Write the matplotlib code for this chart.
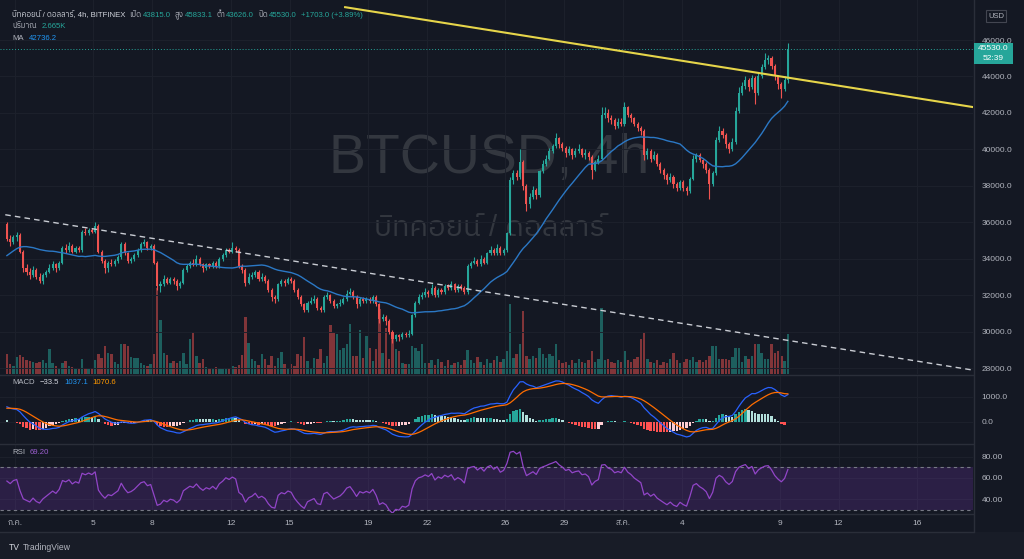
import numpy as np
import pandas as pd
import matplotlib
matplotlib.use("Agg")
import matplotlib.pyplot as plt
from matplotlib import font_manager as fm
from matplotlib.ft2font import FT2Font
from matplotlib.patches import Rectangle
from matplotlib.lines import Line2D

# ---------------------------------------------------------------- data
start_time = "2021-06-30 12:00"      # first visible 4h bar
bar_hours = 4

# closes before the visible window (only feed the indicators)
warmup_close = [
    33700, 34100, 34400, 34600, 34300, 34700,
    34500, 33600, 32900, 32400, 31900, 31600,
    31300, 31700, 32000, 31600, 32000, 32300,
    32300, 32800, 33300, 33800, 34100, 34300,
    34100, 33900, 34200, 34000, 33800, 34100,
    34700, 35200, 35500, 35800, 35400, 35600,
    35400, 35300, 35900,
]

close = [
    35100, 34900, 35200,                                  # Jun 30
    35300, 34400, 33500, 33300, 33100, 33400,             # Jul 1
    33000, 32800, 33100, 33300, 33500, 33700,
    33500, 33800, 34600, 34500, 34700, 34400,
    34600, 34500, 35500, 35400, 35600, 35500,
    35800, 34400, 33900, 33500, 33800, 33700,             # Jul 5
    33900, 34100, 34800, 34300, 33900, 34000,
    34200, 34500, 34800, 34900, 34600, 34700,
    33800, 32500, 32600, 32900, 32700, 32900,
    32800, 32500, 32700, 33400, 33600, 33800,
    33700, 34000, 33700, 33500, 33700, 33600,             # Jul 10
    33800, 33600, 34000, 34200, 34500, 34400,
    34600, 34500, 33600, 33400, 32700, 33000,
    33100, 33300, 32900, 33000, 32800, 32300,
    31900, 31800, 32600, 32800, 32700, 32900,
    32800, 32300, 31900, 31500, 31200, 31600,             # Jul 15
    31700, 31800, 31300, 31200, 31900, 32000,
    31700, 31400, 31500, 31600, 31800, 32100,
    32200, 31900, 31500, 31800, 31700, 31800,
    31700, 31900, 31500, 30700, 30800, 30600,
    30000, 29600, 29800, 29700, 29900, 29800,             # Jul 20
    29900, 30900, 31600, 31900, 32000, 32200,
    32100, 32400, 32000, 32300, 32200, 32500,
    32400, 32600, 32300, 32500, 32400, 32200,
    33600, 33800, 33900, 33700, 34000, 33800,
    34300, 34500, 34300, 34600, 34300, 34500,             # Jul 25
    35400, 38300, 38700, 38500, 39300, 38000,
    37000, 37400, 37800, 37500, 38800, 39200,
    39500, 39900, 40200, 40600, 40300, 40100,
    39800, 40000, 39700, 39900, 40000, 39700,
    39800, 39600, 38900, 39300, 39500, 41900,             # Jul 30
    42000, 41700, 41600, 41300, 41500, 41400,
    42300, 41900, 41700, 41400, 41200, 41000,             # Aug 1
    39700, 39900, 39500, 39700, 39200, 38900,
    38600, 38300, 38500, 38100, 37900, 38200,
    37900, 37700, 38400, 39500, 39700, 39400,
    39200, 38900, 38100, 38700, 40500, 41000,             # Aug 5
    40800, 40300, 40000, 40400, 42100, 43100,
    43500, 43800, 43400, 43900, 43100, 44000,
    44500, 44900, 45000, 44600, 44000, 43600,
    43300, 43815.0, 45530.0,                              # Aug 9
]

high = [
    36000, 35300, 35300,
    35500, 35400, 34500, 33700, 33500, 33600,
    33500, 33200, 33200, 33400, 33700, 33900,
    33800, 33900, 34700, 34800, 34900, 34800,
    34700, 34700, 35600, 35700, 35700, 35700,
    36000, 35900, 34500, 34000, 33900, 34000,
    34000, 34200, 34900, 34900, 34400, 34100,
    34300, 34600, 34900, 35100, 35000, 34800,
    34800, 33900, 32800, 33100, 33000, 33000,
    33000, 32900, 32800, 33500, 33700, 33900,
    34000, 34200, 34100, 33800, 33800, 33800,
    33900, 33900, 34100, 34300, 34600, 34600,
    34900, 34700, 34600, 33700, 33500, 33200,
    33300, 33400, 33400, 33200, 33100, 32900,
    32400, 32000, 32700, 32900, 32900, 33000,
    33000, 32900, 32400, 32000, 31600, 31700,
    31900, 32000, 31900, 31400, 32000, 32200,
    32100, 31800, 31600, 31800, 31900, 32300,
    32400, 32300, 32000, 31900, 31900, 31900,
    31900, 32000, 32000, 31600, 31000, 30900,
    30700, 30100, 29900, 29900, 30000, 30000,
    30100, 31000, 31700, 32100, 32200, 32400,
    32300, 32600, 32500, 32400, 32400, 32600,
    32600, 32800, 32700, 32600, 32600, 32500,
    33700, 33900, 34100, 34000, 34200, 34100,
    34400, 34700, 34600, 34800, 34700, 34600,
    35500, 38500, 38900, 38900, 40000, 39400,
    38100, 37600, 38000, 37900, 38900, 39400,
    39700, 40100, 40300, 40900, 40700, 40400,
    40200, 40200, 40100, 40100, 40300, 40100,
    40000, 39900, 39700, 39400, 39700, 42300,
    42300, 42200, 41900, 41700, 41700, 41700,
    42600, 42400, 42000, 41800, 41500, 41300,
    41100, 40100, 40000, 39900, 39800, 39300,
    39000, 38700, 38700, 38600, 38200, 38300,
    38300, 38000, 38500, 39700, 39800, 39800,
    39500, 39300, 39000, 38800, 40700, 41300,
    41200, 40900, 40400, 40600, 42300, 43400,
    43700, 44000, 43900, 44100, 44000, 44200,
    44700, 45300, 45200, 45100, 44700, 44100,
    43700, 44000, 45833.1,
]

low = [
    35000, 34700, 34800,
    35000, 34300, 33300, 33100, 32900, 33000,
    32900, 32700, 32600, 33000, 33200, 33400,
    33300, 33400, 33700, 34300, 34400, 34300,
    34300, 34400, 34400, 35300, 35300, 35400,
    35400, 34300, 33800, 33200, 33300, 33600,
    33600, 33800, 34000, 34200, 33800, 33800,
    33900, 34100, 34400, 34700, 34500, 34500,
    33700, 32300, 32200, 32500, 32600, 32600,
    32600, 32300, 32400, 32600, 33300, 33500,
    33600, 33600, 33600, 33300, 33400, 33500,
    33500, 33500, 33500, 33900, 34100, 34300,
    34300, 34400, 33500, 33200, 32500, 32600,
    32900, 33000, 32800, 32800, 32700, 32200,
    31700, 31600, 31700, 32500, 32500, 32600,
    32700, 32200, 31800, 31400, 31100, 31100,
    31500, 31600, 31200, 31100, 31100, 31800,
    31600, 31300, 31300, 31400, 31500, 31700,
    32000, 31800, 31300, 31400, 31600, 31600,
    31600, 31600, 31400, 30500, 30600, 30400,
    29900, 29400, 29500, 29500, 29600, 29700,
    29700, 29800, 30800, 31500, 31800, 31900,
    31900, 32000, 31900, 31900, 32100, 32100,
    32300, 32300, 32200, 32200, 32300, 32100,
    32100, 33500, 33700, 33600, 33600, 33700,
    33700, 34200, 34200, 34200, 34200, 34200,
    34400, 35300, 38100, 38300, 38400, 37800,
    36600, 36800, 37300, 37300, 37400, 38700,
    39100, 39400, 39800, 40100, 40100, 39900,
    39600, 39700, 39500, 39600, 39800, 39600,
    39500, 39400, 38400, 38800, 39200, 39400,
    41700, 41500, 41400, 41100, 41200, 41300,
    41300, 41800, 41500, 41300, 41000, 40800,
    39400, 39500, 39300, 39400, 39100, 38700,
    38400, 38100, 38200, 37900, 37700, 37800,
    37700, 37500, 37600, 38300, 39300, 39300,
    39000, 38700, 37300, 38000, 38600, 40400,
    40600, 40100, 39800, 39900, 40300, 42000,
    43000, 43300, 43200, 43300, 42500, 43000,
    43900, 44400, 44700, 44400, 43800, 43300,
    42800, 43200, 43626.0,
]

volume = [
    1300, 650, 530,
    1100, 1270, 1130, 900, 870, 820,
    700, 800, 900, 700, 1690, 700,
    530, 420, 750, 870, 530, 490,
    420, 310, 980, 380, 310, 420,
    900, 1300, 1090, 1860, 1420, 1300,
    820, 690, 2020, 1980, 1860, 1130,
    1090, 1040, 750, 600, 530, 640,
    1300, 5700, 3570, 1420, 1270, 750,
    870, 750, 870, 1420, 690, 2350,
    2750, 1200, 750, 980, 490, 420,
    310, 470, 420, 360, 420, 380,
    530, 470, 600, 1270, 3800, 2090,
    980, 870, 600, 1300, 980, 600,
    1200, 530, 1090, 1480, 640, 420,
    640, 530, 1360, 1200, 2490, 870,
    420, 1090, 980, 1640, 750, 1200,
    3240, 2710, 2640, 1580, 1750, 1970,
    3300, 1200, 1200, 2960, 1090, 2530,
    1750, 870, 1640, 4300, 1420, 3080,
    980, 2750, 1640, 1530, 760, 640,
    640, 1860, 1750, 1530, 1980, 750,
    700, 900, 600, 1000, 800, 500,
    900, 600, 700, 800, 600, 900,
    1580, 900, 700, 1100, 800, 600,
    1000, 700, 900, 1200, 800, 1000,
    1500, 4650, 1070, 1300, 1980, 4200,
    1170, 1000, 1200, 1070, 1750, 1300,
    1070, 1300, 1200, 2000, 900, 700,
    800, 600, 900, 700, 1000, 800,
    700, 900, 1530, 800, 1000, 4400,
    900, 1000, 800, 700, 900, 800,
    1530, 900, 800, 1000, 1100, 2300,
    2750, 1000, 800, 700, 900, 600,
    800, 700, 1000, 1400, 900, 700,
    800, 1000, 900, 1100, 800, 900,
    800, 900, 1200, 1860, 1860, 1000,
    1000, 1000, 900, 1100, 1750, 1750,
    780, 1200, 1000, 1200, 2000, 2000,
    1400, 980, 1000, 2000, 1400, 1530,
    1200, 870, 2665,
]

ma_length = 25

tick_dates = ["2021-07-01", "2021-07-05", "2021-07-08", "2021-07-12", "2021-07-15",
              "2021-07-19", "2021-07-22", "2021-07-26", "2021-07-29", "2021-08-01",
              "2021-08-04", "2021-08-09", "2021-08-12", "2021-08-16"]
tick_labels = ["ก.ค.", "5", "8", "12", "15", "19", "22", "26", "29", "ส.ค.",
               "4", "9", "12", "16"]

yellow_line_time = ["2021-07-17 20:00", "2021-08-18 21:00"]
yellow_line_price = [47800, 42320]
dashed_line_time = ["2021-06-30 12:00", "2021-08-18 21:00"]
dashed_line_price = [36420, 27900]

legend_symbol = "บิทคอยน์ / ดอลลาร์, 4h, BITFINEX"
legend_open, legend_high, legend_low, legend_close = "43815.0", "45833.1", "43626.0", "45530.0"
legend_change = "+1703.0 (+3.89%)"
legend_volume = "2.665K"
legend_ma = "42736.2"
legend_macd = ["\u221233.5", "1037.1", "1070.6"]
legend_rsi = "69.20"
countdown = "52:39"
watermark_1 = "BTCUSD, 4h"
watermark_2 = "บิทคอยน์ / ดอลลาร์"

# ---------------------------------------------------------------- fonts
names = {f.name for f in fm.fontManager.ttflist}
UI = [n for n in ["Liberation Sans Narrow", "Liberation Sans", "DejaVu Sans"] if n in names][:1]


def _has_thai(path):
    try:
        cm = FT2Font(path).get_charmap()
        return 0x0E1A in cm and 0x0E2D in cm
    except Exception:
        return False


THAI = []
for f in sorted(fm.fontManager.ttflist, key=lambda f: 0 if "thai" in f.name.lower() else 1):
    if f.name not in THAI and _has_thai(f.fname):
        THAI.append(f.name)
        break
FAM = UI + THAI + ["DejaVu Sans"]
plt.rcParams["font.family"] = FAM

# ---------------------------------------------------------------- derived series
t0 = pd.Timestamp("2021-07-01")
day = pd.Timedelta(days=1)
times = pd.date_range(start_time, periods=len(close), freq=f"{bar_hours}h")
x = ((times - t0) / day).to_numpy() + bar_hours / 48.0

c = np.array(close, dtype=float)
o = np.r_[warmup_close[-1], c[:-1]]
h = np.array(high, dtype=float)
l = np.array(low, dtype=float)
v = np.array(volume, dtype=float)
nw = len(warmup_close)

allc = pd.Series(list(warmup_close) + list(close), dtype=float)
ma = allc.rolling(ma_length).mean().to_numpy()[nw:]
ema12 = allc.ewm(span=12, adjust=False).mean()
ema26 = allc.ewm(span=26, adjust=False).mean()
macd = ema12 - ema26
sig = macd.ewm(span=9, adjust=False).mean()
hist = (macd - sig).to_numpy()
prev = np.r_[hist[0], hist[:-1]]
hist_col = np.where(hist >= 0, np.where(hist >= prev, "#26a69a", "#b2dfdb"),
                    np.where(hist < prev, "#ff5252", "#ffcdd2"))
delta = allc.diff().fillna(0)
gain = delta.clip(lower=0).ewm(alpha=1 / 14, adjust=False).mean()
loss = (-delta.clip(upper=0)).ewm(alpha=1 / 14, adjust=False).mean()
rsi = (100 - 100 / (1 + gain / loss)).to_numpy()

macd_v, sig_v, hist_v, hcol_v, rsi_v = (macd.to_numpy()[nw:], sig.to_numpy()[nw:],
                                        hist[nw:], hist_col[nw:], rsi[nw:])
tick_x = ((pd.to_datetime(tick_dates) - t0) / day).to_numpy()
yl_x = ((pd.to_datetime(yellow_line_time) - t0) / day).to_numpy()
dl_x = ((pd.to_datetime(dashed_line_time) - t0) / day).to_numpy()

# ---------------------------------------------------------------- style
BG = "#141823"
GRID = "#1d212c"
SEP = "#2a2e39"
TXT = "#b2b5be"
UP, DN = "#26a69a", "#ef5350"
W, H = 1024, 559
XL = (-0.769, 48.86)
FS = 6.0


def fx(px):
    return px / W


def fy(py):
    return 1 - py / H


fig = plt.figure(figsize=(W / 100, H / 100), dpi=100, facecolor=BG)
PR = 973


def pane(top, bottom):
    return fig.add_axes([0, fy(bottom), PR / W, (bottom - top) / H])


ax_v = pane(0, 374)
ax = pane(0, 374)
ax_m = pane(375, 443)
ax_r = pane(444, 513)

for a in (ax_v, ax, ax_m, ax_r):
    a.set_xlim(*XL)
    for s in a.spines.values():
        s.set_visible(False)
    a.set_xticks(tick_x)
    a.tick_params(axis="x", length=0, labelbottom=False)
    a.tick_params(axis="y", length=0, left=False, labelleft=False, right=False,
                  labelright=True, labelsize=FS, labelcolor=TXT, pad=6)
    a.grid(True, color=GRID, lw=0.7, zorder=0)
    a.set_axisbelow(True)
ax_v.set_facecolor(BG)
ax.set_facecolor("none")
ax_m.set_facecolor(BG)
ax_r.set_facecolor(BG)

# volume (own scale, behind price)
ax_v.grid(False)
ax_v.set_yticks([])
ax_v.set_xticks([])
ax_v.set_ylim(0, 24900)
ax_v.bar(x, v, width=0.125, color=np.where(c >= o, UP, DN), alpha=0.5, lw=0, zorder=2)
ax_v.text(0.503, 0.575, watermark_1, transform=ax_v.transAxes, ha="center", va="center",
          fontsize=46 if UI and UI[0] == "Liberation Sans Narrow" else 40,
          color="#33373f", zorder=1)
ax_v.text(0.503, 0.39, watermark_2, transform=ax_v.transAxes, ha="center", va="center",
          fontsize=21, color="#33373f", zorder=1)

# price pane
ax.set_ylim(27689, 48193)
ax.set_yticks(np.arange(28000, 46001, 2000))
ax.yaxis.set_major_formatter(lambda val, pos: f"{val:.1f}")
col = np.where(c >= o, UP, DN)
ax.vlines(x, l, h, colors=col, lw=0.8, zorder=3)
ax.bar(x, np.maximum(np.abs(c - o), 30), bottom=np.minimum(o, c), width=0.105,
       color=col, lw=0, zorder=4)
ax.plot(x, ma, color="#2b78c5", lw=1.0, zorder=5)
ax.plot(yl_x, yellow_line_price, color="#e6d54a", lw=1.5, zorder=6)
ax.plot(dl_x, dashed_line_price, color="#c9ccd3", lw=1.0, dashes=(4, 3), zorder=6)
ax.axhline(c[-1], color=UP, lw=0.7, ls=(0, (1, 2)), zorder=2)

# MACD pane
ax_m.set_ylim(-852, 1868)
ax_m.set_yticks([0, 1000])
ax_m.yaxis.set_major_formatter(lambda val, pos: f"{val:.1f}")
ax_m.bar(x, hist_v, width=0.12, color=hcol_v, lw=0, zorder=2)
ax_m.plot(x, macd_v, color="#2962ff", lw=0.9, zorder=3)
ax_m.plot(x, sig_v, color="#ff6d00", lw=0.9, zorder=3)

# RSI pane
ax_r.set_ylim(26.8, 92.0)
ax_r.set_yticks([40, 60, 80])
ax_r.yaxis.set_major_formatter(lambda val, pos: f"{val:.2f}")
ax_r.axhspan(30, 70, color="#8a3fd0", alpha=0.2, lw=0, zorder=1)
for lev in (70, 30):
    ax_r.axhline(lev, color="#787b86", lw=0.8, dashes=(3, 3), zorder=2)
ax_r.plot(x, rsi_v, color="#9245c8", lw=0.9, zorder=3)
ax_r.set_xticklabels(tick_labels)
ax_r.tick_params(axis="x", labelbottom=True, labelsize=FS, labelcolor=TXT, pad=5)

# separators / frame
for yy in (374.5, 443.5, 513.5, 531.5):
    fig.add_artist(Line2D([0, fx(PR)], [fy(yy)] * 2, color=SEP, lw=1))
fig.add_artist(Line2D([fx(PR + 0.5)] * 2, [fy(0), fy(531.5)], color=SEP, lw=1))
fig.add_artist(Rectangle((0, 0), 1, 27 / H, transform=fig.transFigure, facecolor="#181c27",
                         lw=0, zorder=0))

# price label box
fig.add_artist(Rectangle((fx(974), fy(64)), 39 / W, 21 / H, transform=fig.transFigure,
                         facecolor=UP, lw=0, zorder=5))
fig.text(fx(993.5), fy(49), f"{c[-1]:.1f}", color="white", fontsize=FS, ha="center",
         va="center", zorder=6)
fig.text(fx(993.5), fy(59), countdown, color="white", fontsize=FS, ha="center", va="center",
         zorder=6)
fig.add_artist(Rectangle((fx(986), fy(22)), 20 / W, 12 / H, transform=fig.transFigure,
                         facecolor="none", edgecolor="#434651", lw=0.8, zorder=5))
fig.text(fx(996), fy(16), "USD", color=TXT, fontsize=5.5, ha="center", va="center")

# legends: segments laid out left to right using measured text widths
renderer = fig.canvas.get_renderer()


def row(py, segments, x0=12, fs=FS):
    px = x0
    for s, color, gap in segments:
        txt = fig.text(fx(px), fy(py), s, color=color, fontsize=fs, ha="left", va="center")
        bb = txt.get_window_extent(renderer)
        px = bb.x1 + gap


row(15.5, [(legend_symbol, "#d1d4dc", 4),
           ("เปิด", TXT, 1), (legend_open, UP, 4),
           ("สูง", TXT, 1), (legend_high, UP, 4),
           ("ต่ำ", TXT, 1), (legend_low, UP, 4),
           ("ปิด", TXT, 1), (legend_close, UP, 4),
           (legend_change, UP, 0)], fs=5.6)
row(27, [("ปริมาณ", TXT, 5), (legend_volume, UP, 0)], fs=5.6)
row(38, [("MA", TXT, 5), (legend_ma, "#2196f3", 0)], fs=5.6)
row(383, [("MACD", TXT, 5), (legend_macd[0], "#d1d4dc", 5),
          (legend_macd[1], "#2196f3", 5), (legend_macd[2], "#ff9800", 0)], fs=5.6)
row(452, [("RSI", TXT, 5), (legend_rsi, "#9c5fd0", 0)], fs=5.6)

# footer logo
row(548, [("TV", "#d1d4dc", 3), ("TradingView", "#b2b5be", 0)], x0=9, fs=6.2)

fig.savefig("out.png", dpi=100, facecolor=BG)
